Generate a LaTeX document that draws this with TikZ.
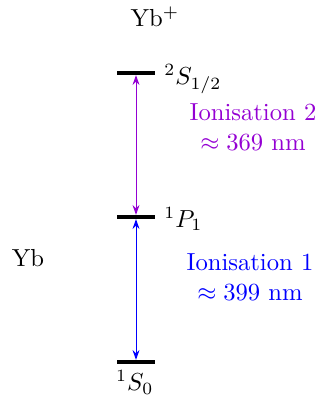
\documentclass[tikz,border=0pt]{standalone}
\usepackage{xcolor}
\usepackage{tikz}
\usetikzlibrary{arrows.meta,positioning}

\definecolor{ionviolet}{RGB}{148,0,211}
\definecolor{ionblue}{RGB}{0,0,255}

\tikzset{
  level/.style={draw=none, fill=black, minimum width=15.6pt, minimum height=1.3pt, inner sep=0pt},
  ionarrow/.style={{Stealth[length=4pt,width=2.8pt]}-{Stealth[length=4pt,width=2.8pt]}, line width=0.4pt},
}

\begin{document}
\begin{tikzpicture}[x=0.406pt, y=0.406pt]
\useasboundingbox (0,0) rectangle (325,396);

% Levels
\node[level] (S) at (136,323) {};
\node[level] (P) at (136,179) {};
\node[level] (G) at (136,34) {};

% Level names
\node[right=0pt of S.east, yshift=-2.5pt] (Slab) {$^2S_{1/2}$};
\node[right=0pt of P.east, yshift=-0.8pt] (Plab) {$^1P_1$};
\node[below=1.5pt of G.south, xshift=-0.5pt, inner sep=1pt] (Glab) {$^1S_0$};

% Species
\node (ion) at (155,379) {Yb$^+$};
\node (atom) at (28,138) {Yb};

% Transitions
\draw[ionarrow, ionviolet] (P.north) -- (S.south);
\draw[ionarrow, ionblue] (G.north) -- (P.south);
\node[ionviolet, align=center] (step2) at (253,269) {Ionisation 2\\$\approx 369$ nm};
\node[ionblue, align=center] (step1) at (250,119) {Ionisation 1\\$\approx 399$ nm};
\end{tikzpicture}
\end{document}
